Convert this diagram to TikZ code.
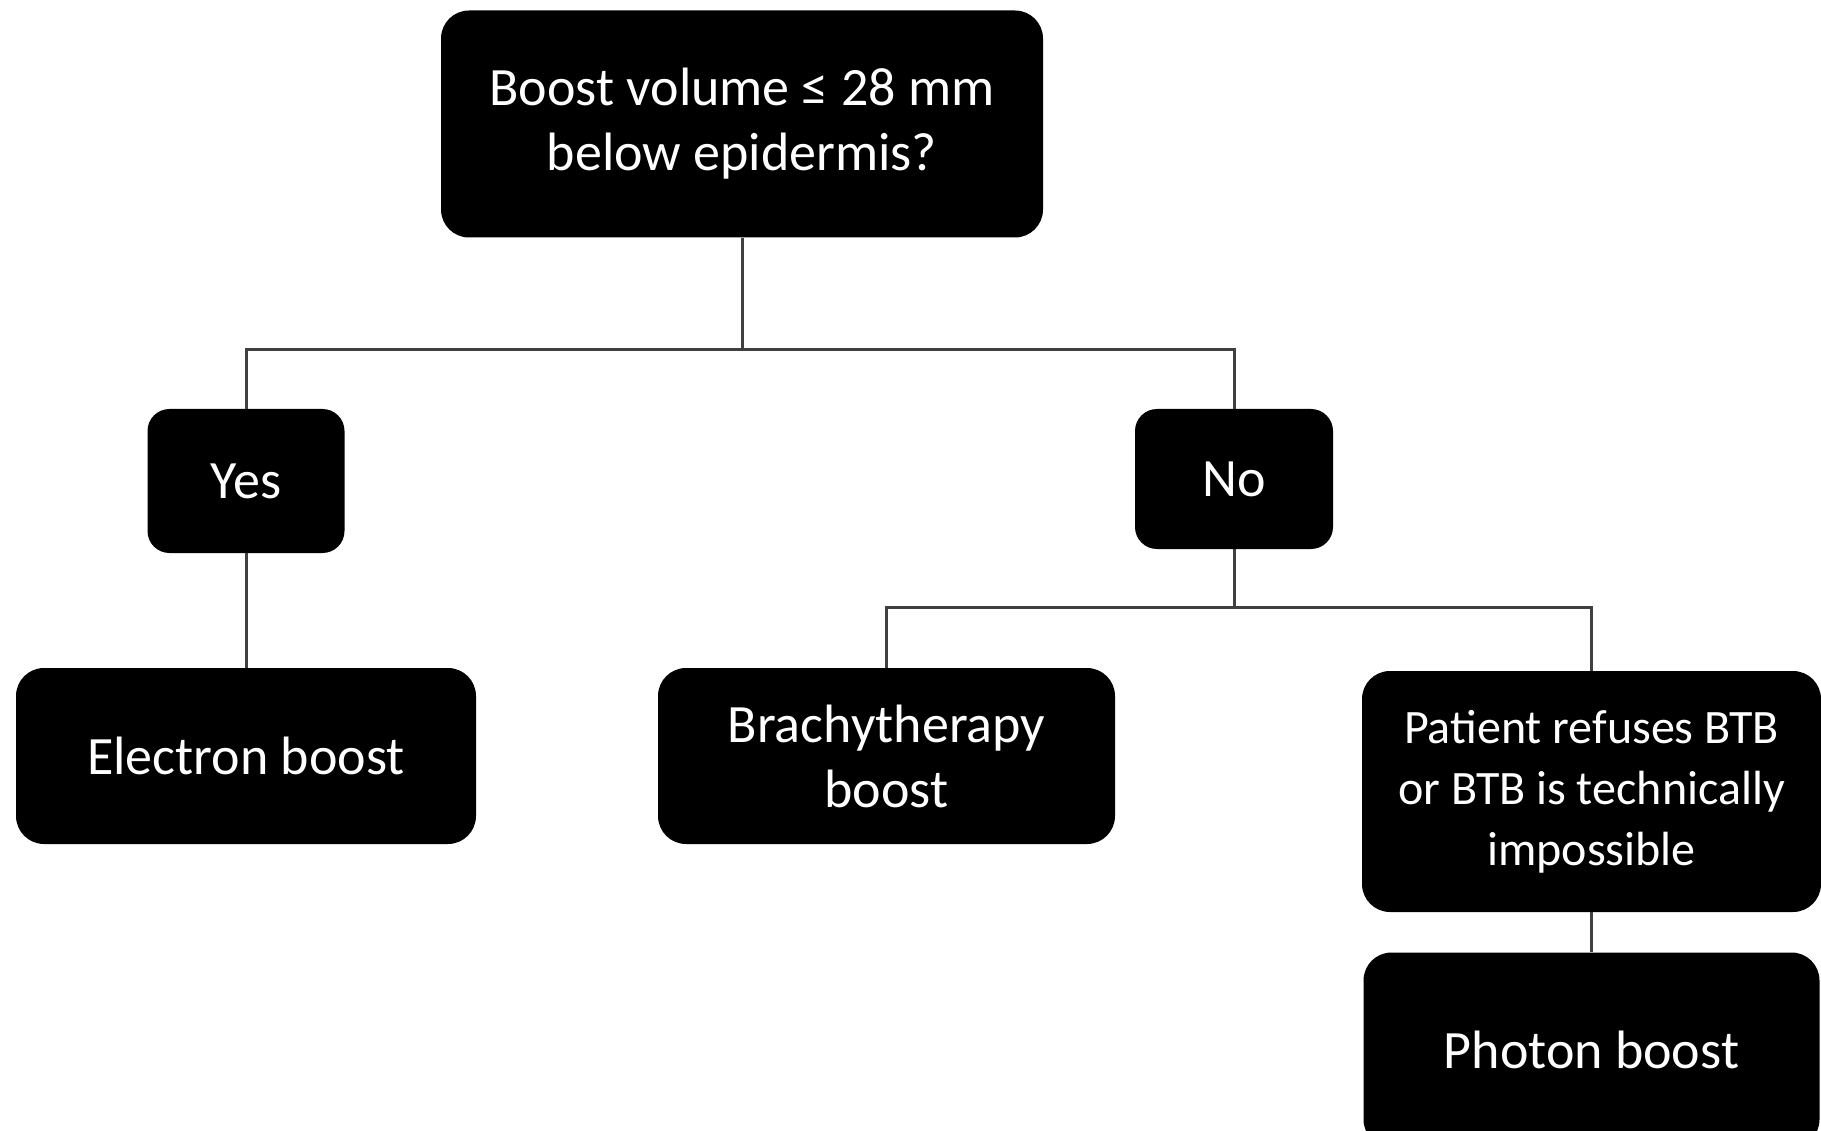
\documentclass[tikz,border=0pt]{standalone}
\usepackage{fontspec}
\setmainfont{Carlito}
\begin{document}
\begin{tikzpicture}[x=1pt,y=-1pt,
  box/.style={fill=black, text=white, rounded corners=28pt, align=center,
    inner sep=0pt, font=\fontsize{54}{65}\selectfont},
  link/.style={draw=black!75, line width=3pt}]
\clip (0,0) rectangle (1821,1131);
\fill[white] (0,0) rectangle (1821,1131);
\node[box, minimum width=602pt, minimum height=227pt] (top) at (742,124) {Boost volume ≤ 28 mm\\below epidermis?};
\node[box, minimum width=197pt, minimum height=144pt, rounded corners=22pt] (yes) at (246,481) {Yes};
\node[box, minimum width=198pt, minimum height=140pt, rounded corners=22pt] (no) at (1234,479) {No};
\node[box, minimum width=460pt, minimum height=176pt] (el) at (246,756) {Electron boost};
\node[box, minimum width=457pt, minimum height=176pt] (br) at (886.5,756) {Brachytherapy\\boost};
\node[box, minimum width=459pt, minimum height=241pt, font=\fontsize{48}{61}\selectfont] (pa) at (1591.5,791.5) {Patient refuses BTB\\or BTB is technically\\impossible};
\node[box, minimum width=456pt, minimum height=195pt] (ph) at (1591.5,1050) {Photon boost};
\coordinate (j1) at (742,350);
\coordinate (j2) at (1234,607);
\draw[link] (top.south) -- (j1);
\draw[link] (yes.north) |- (j1) -| (no.north);
\draw[link] (yes.south) -- (el.north);
\draw[link] (no.south) -- (j2);
\draw[link] (br.north) |- (j2) -| (pa.north);
\draw[link] (pa.south) -- (ph.north);
\end{tikzpicture}
\end{document}
